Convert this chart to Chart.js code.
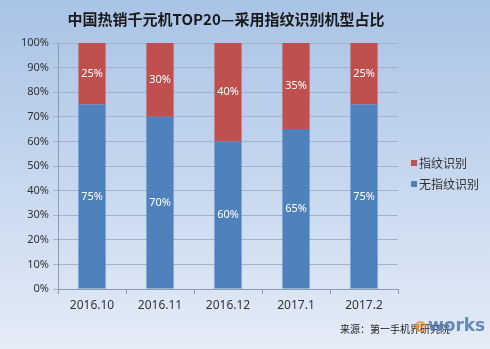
<!DOCTYPE html>
<html>
<head>
<meta charset="utf-8">
<script src="https://cdn.jsdelivr.net/npm/chart.js@4/dist/chart.umd.min.js"></script>
<style>
  html, body { margin: 0; padding: 0; }
  #wrap { width: 490px; height: 349px; position: relative; }
</style>
</head>
<body>
<div id="wrap"><canvas id="myChart" width="490" height="349"></canvas></div>
<script>
var months = ['2016.10', '2016.11', '2016.12', '2017.1', '2017.2'];
var withFingerprint = [25, 30, 40, 35, 25];
var withoutFingerprint = [75, 70, 60, 65, 75];
var yTicks = [0, 10, 20, 30, 40, 50, 60, 70, 80, 90, 100];

var RED = '#c0504d';
var BLUE = '#4f81bd';
var FONT = '"Noto Sans", "Noto Sans CJK SC", sans-serif';
var CJK = '"Noto Sans CJK SC", sans-serif';

// background, title, value labels, legend and source line
var decor = {
    id: 'decor',
    beforeDraw: function (chart) {
        var c = chart.ctx;
        var g = c.createLinearGradient(0, 0, 0, chart.height);
        g.addColorStop(0, '#a9c3e6');
        g.addColorStop(0.5, '#c6d7ee');
        g.addColorStop(1, '#e4ecf7');
        c.save();
        c.fillStyle = g;
        c.fillRect(0, 0, chart.width, chart.height);
        c.restore();
    },
    afterDatasetsDraw: function (chart) {
        var c = chart.ctx;
        c.save();
        c.font = '11px ' + FONT;
        c.fillStyle = '#ffffff';
        c.textAlign = 'center';
        c.textBaseline = 'middle';
        chart.data.datasets.forEach(function (ds, i) {
            chart.getDatasetMeta(i).data.forEach(function (bar, j) {
                c.fillText(ds.data[j] + '%', bar.x, (bar.y + bar.base) / 2);
            });
        });
        c.restore();
    },
    afterDraw: function (chart) {
        var c = chart.ctx;
        c.save();
        c.fillStyle = '#1a1a1a';
        c.font = 'bold 15px ' + CJK;
        c.textAlign = 'center';
        c.textBaseline = 'middle';
        c.fillText('中国热销千元机TOP20—采用指纹识别机型占比', 226, 19);

        // legend, red entry on top
        var items = [[RED, '指纹识别', 163], [BLUE, '无指纹识别', 184]];
        c.font = '12px ' + CJK;
        c.textAlign = 'left';
        items.forEach(function (it) {
            c.fillStyle = it[0];
            c.fillRect(411, it[2] - 3, 6, 6);
            c.fillStyle = '#333333';
            c.fillText(it[1], 419, it[2]);
        });

        c.font = '10px ' + CJK;
        c.fillStyle = '#222222';
        c.fillText('来源：第一手机界研究院', 340, 329);

        // site mark
        c.font = 'bold 19px "DejaVu Sans", sans-serif';
        c.fillStyle = 'rgba(240,140,40,0.7)';
        c.fillText('e', 414, 327);
        c.fillStyle = 'rgba(80,120,175,0.85)';
        c.font = 'bold 17px "DejaVu Sans", sans-serif';
        c.fillText('works', 428, 327);
        c.restore();
    }
};

var ctx = document.getElementById('myChart').getContext('2d');
var chart = new Chart(ctx, {
    type: 'bar',
    data: {
        labels: months,
        datasets: [{
            label: '无指纹识别',
            backgroundColor: BLUE,
            data: withoutFingerprint
        }, {
            label: '指纹识别',
            backgroundColor: RED,
            data: withFingerprint
        }]
    },
    plugins: [decor],
    options: {
        responsive: false,
        animation: false,
        layout: { padding: { top: 43, right: 92, left: 0, bottom: 0 } },
        categoryPercentage: 1,
        barPercentage: 0.4,
        plugins: {
            legend: { display: false },
            title: { display: false },
            tooltip: { enabled: false }
        },
        scales: {
            x: {
                stacked: true,
                afterFit: function (s) { s.height = 60; },
                grid: { offset: true, drawOnChartArea: false, color: '#8c9cb4', tickLength: 5 },
                border: { color: '#8c9cb4' },
                ticks: { color: '#333333', font: { family: FONT, size: 12 }, padding: 4 }
            },
            y: {
                stacked: true,
                min: 0,
                max: 100,
                afterFit: function (s) { s.width = 58; },
                afterBuildTicks: function (s) {
                    s.ticks = yTicks.map(function (v) { return { value: v }; });
                },
                grid: { color: '#a2b2ca', tickLength: 5 },
                border: { color: '#8c9cb4' },
                ticks: {
                    color: '#333333',
                    font: { family: FONT, size: 11 },
                    padding: 4,
                    callback: function (v) { return v + '%'; }
                }
            }
        }
    }
});
</script>
</body>
</html>
